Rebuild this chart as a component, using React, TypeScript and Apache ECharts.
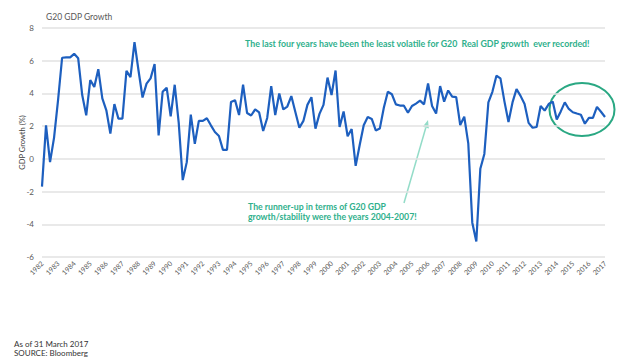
import React, { useEffect, useRef } from "react";
import * as echarts from "echarts";

const startYear = 1982;
const endYear = 2017;

// Quarterly G20 real GDP growth (%), 1982 Q1 .. 2017 Q1
const gdpGrowth: number[] = [
  -1.7, 2.05, -0.2, 1.3, 3.6, 6.18, 6.2, 6.2, 6.42, 6.15,
  3.9, 2.66, 4.82, 4.4, 5.48, 3.7, 2.97, 1.54, 3.35, 2.46,
  2.46, 5.38, 5.0, 7.14, 5.4, 3.75, 4.6, 4.92, 5.8, 1.43,
  4.1, 4.35, 2.6, 4.53, 2.2, -1.3, -0.2, 2.7, 0.92, 2.32,
  2.32, 2.48, 2.05, 1.64, 1.4, 0.55, 0.55, 3.48, 3.59, 2.68,
  4.53, 2.8, 2.65, 3.02, 2.84, 1.7, 2.5, 4.45, 2.68, 4.0,
  3.02, 3.2, 3.84, 2.87, 1.9, 2.32, 3.3, 3.77, 1.85, 2.75,
  3.3, 4.97, 3.9, 5.4, 1.95, 2.9, 1.38, 1.82, -0.43, 0.85,
  2.05, 2.56, 2.44, 1.74, 1.85, 3.12, 4.1, 3.95, 3.33, 3.26,
  3.25, 2.82, 3.23, 3.38, 3.56, 3.33, 4.61, 3.23, 2.77, 4.45,
  3.5, 4.18, 3.8, 3.77, 2.07, 2.58, 0.95, -3.9, -5.05, -0.6,
  0.3, 3.45, 4.1, 5.08, 4.92, 3.5, 2.25, 3.45, 4.26, 3.85,
  3.35, 2.2, 1.9, 1.95, 3.23, 2.95, 3.35, 3.5, 2.4, 2.9,
  3.45, 3.05, 2.85, 2.77, 2.7, 2.15, 2.5, 2.5, 3.18, 2.88,
  2.56,
];

const quarters: string[] = [];
for (let y = startYear; y <= endYear; y++) {
  for (let q = 1; q <= 4; q++) {
    if (quarters.length < gdpGrowth.length) quarters.push(`${y} Q${q}`);
  }
}

const yTicks = { min: -6, max: 8, interval: 2 };

const titleText = "G20 GDP Growth";
const yAxisName = "GDP Growth (%)";
const noteTop =
  "The last four years have been the least volatile for G20  Real GDP growth  ever recorded!";
const noteRunnerUp = [
  "The runner-up in terms of G20 GDP",
  "growth/stability were the years 2004-2007!",
];
const footer = ["As of 31 March 2017", "SOURCE: Bloomberg"];

const teal = "#2fb08c";
const arrowTeal = "#93dcc8";

export default function App() {
  const ref = useRef<HTMLDivElement>(null);

  useEffect(() => {
    if (!ref.current) return;
    const chart = echarts.init(ref.current, null, { renderer: "svg" });
    const font = "Lato, 'Open Sans', sans-serif";

    // arrow geometry (annotation)
    const tail = [404, 203];
    const tip = [428, 120];
    const dx = tip[0] - tail[0];
    const dy = tip[1] - tail[1];
    const len = Math.sqrt(dx * dx + dy * dy);
    const ux = dx / len;
    const uy = dy / len;
    const hl = 8;
    const hw = 3.2;
    const bx = tip[0] - ux * hl;
    const by = tip[1] - uy * hl;

    chart.setOption({
      animation: false,
      backgroundColor: "#ffffff",
      grid: { left: 42, right: 23, top: 28, bottom: 105, containLabel: false },
      xAxis: {
        type: "category",
        data: quarters,
        boundaryGap: false,
        axisLine: { show: false },
        axisTick: { show: false },
        axisLabel: {
          interval: 3,
          rotate: 45,
          margin: 5,
          fontSize: 7,
          color: "#595959",
          fontFamily: font,
          formatter: (v: string) => v.slice(0, 4),
        },
        splitLine: { show: false },
      },
      yAxis: {
        type: "value",
        min: yTicks.min,
        max: yTicks.max,
        interval: yTicks.interval,
        name: yAxisName,
        nameLocation: "middle",
        nameGap: 16,
        nameMoveOverlap: false,
        nameTextStyle: { fontSize: 7.5, color: "#404040", fontFamily: font },
        axisLine: { show: false },
        axisTick: { show: false },
        axisLabel: { fontSize: 8, color: "#595959", margin: 8, fontFamily: font },
        splitLine: { lineStyle: { color: "#e2e2e2", width: 1.5 } },
      },
      series: [
        {
          type: "line",
          data: gdpGrowth,
          showSymbol: false,
          symbol: "none",
          lineStyle: { color: "#1d5fbf", width: 2.2 },
        },
      ],
      graphic: [
        {
          type: "text",
          left: 46,
          top: 12,
          style: { text: titleText, fontSize: 8.5, fill: "#595959", fontFamily: font },
        },
        {
          type: "text",
          left: 245,
          top: 39,
          style: {
            text: noteTop,
            fontSize: 8.8,
            fontWeight: "bold",
            fill: teal,
            fontFamily: font,
          },
        },
        {
          type: "text",
          left: 248,
          top: 201,
          style: {
            text: noteRunnerUp.join("\n"),
            fontSize: 8.7,
            lineHeight: 10.5,
            fontWeight: "bold",
            fill: teal,
            fontFamily: font,
          },
        },
        {
          type: "line",
          shape: { x1: tail[0], y1: tail[1], x2: bx, y2: by },
          style: { stroke: arrowTeal, lineWidth: 1.5 },
        },
        {
          type: "polygon",
          shape: {
            points: [
              [tip[0], tip[1]],
              [bx - uy * hw, by + ux * hw],
              [bx + uy * hw, by - ux * hw],
            ],
          },
          style: { fill: arrowTeal },
        },
        {
          type: "ellipse",
          shape: { cx: 582, cy: 109.5, rx: 32.5, ry: 26.5 },
          style: { fill: "none", stroke: "#2aa883", lineWidth: 2 },
        },
        {
          type: "text",
          left: 14,
          top: 339,
          style: {
            text: footer.join("\n"),
            fontSize: 8,
            lineHeight: 9.5,
            fill: "#333333",
            fontFamily: font,
          },
        },
      ],
    });

    return () => chart.dispose();
  }, []);

  return (
    <div
      ref={ref}
      style={{ position: "fixed", left: 0, top: 0, width: 628, height: 362 }}
    />
  );
}
